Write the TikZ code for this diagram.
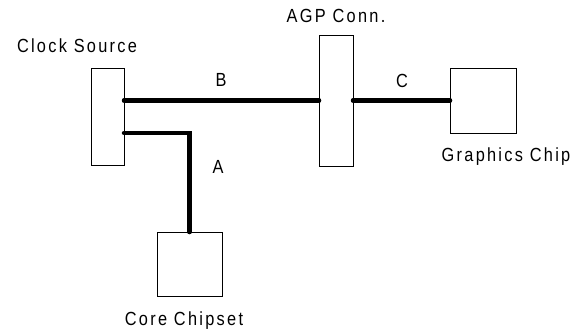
\documentclass[tikz,border=0pt]{standalone}
\usepackage{fontspec}
\setmainfont{Liberation Sans}[LetterSpace=12,FakeStretch=0.86]
\begin{document}
\begin{tikzpicture}[x=1pt,y=-1pt,
  box/.style={draw=black,line width=1pt,fill=white,inner sep=0pt,outer sep=0pt},
  wire/.style={line width=4.5pt,line cap=round},
  lbl/.style={anchor=base,inner sep=0pt,font=\fontsize{19}{21}\selectfont}]
\useasboundingbox (0,0) rectangle (581,330);
\node[box,minimum width=33pt,minimum height=97pt] (clk) at (107.5,116.5) {};
\node[box,minimum width=34pt,minimum height=131pt] (agp) at (336,100.5) {};
\node[box,minimum width=66pt,minimum height=65pt] (gfx) at (483,100.5) {};
\node[box,minimum width=65pt,minimum height=64pt] (core) at (189.5,264) {};
\coordinate (clkB) at (clk.east |- agp.west);
\coordinate (clkA) at (124,133);
\draw[wire] (clkB) -- (agp.west);
\draw[wire] (agp.east) -- (gfx.west);
\draw[wire,line join=miter] (clkA) -| (core.north);
\node[lbl] (tclk) at (77,52) {Clock Source};
\node[lbl] (tagp) at (336,22) {AGP Conn.};
\node[lbl] (tgfx) at (506,161) {Graphics Chip};
\node[lbl] (tcore) at (184,325) {Core Chipset};
\node[lbl] (tB) at (221,86) {B};
\node[lbl] (tC) at (402,87) {C};
\node[lbl] (tA) at (218,173) {A};
\end{tikzpicture}
\end{document}
